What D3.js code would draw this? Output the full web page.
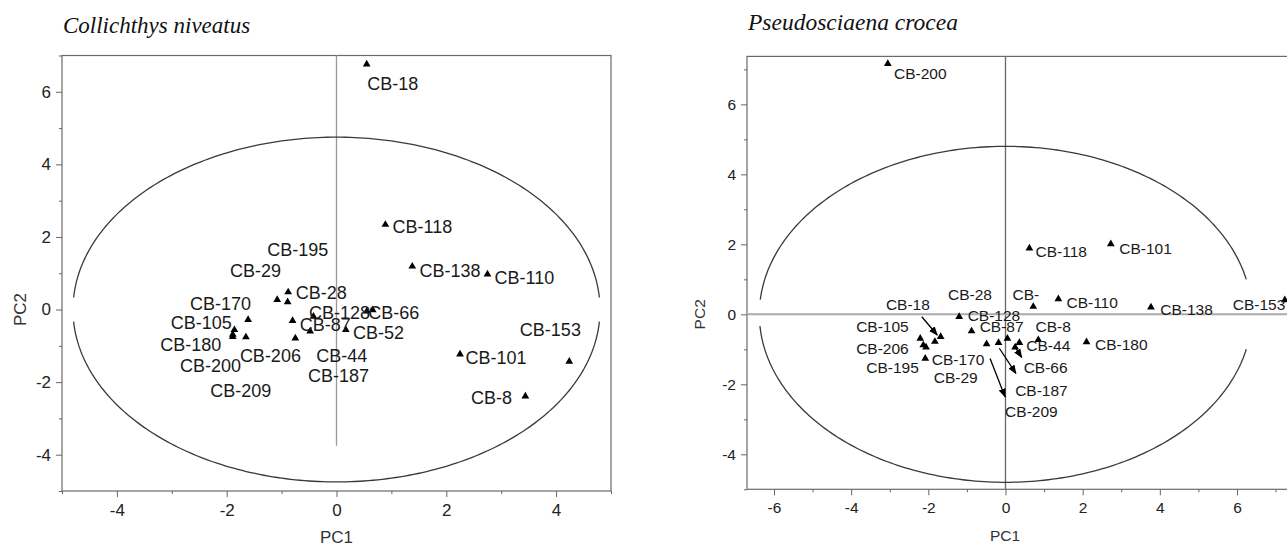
<!DOCTYPE html>
<html>
<head>
<meta charset="utf-8">
<script src="https://cdn.jsdelivr.net/npm/d3@7"></script>
<style>
  body { margin: 0; background: #fff; }
  svg { display: block; }
  .lbl { font-family: "Liberation Sans", Arial, sans-serif; fill: #1a1a1a; }
  .tick text { font-family: "Liberation Sans", Arial, sans-serif; fill: #222; }
  .title { font-family: "Liberation Serif", "Times New Roman", serif; font-style: italic; fill: #111; }
</style>
</head>
<body>
<div id="chart"></div>
<script>
// ---- Collichthys niveatus (left) ----
const leftNames = ["CB-18", "CB-118", "CB-138", "CB-110", "CB-153", "CB-101", "CB-8",
  "CB-195", "CB-28", "CB-29", "CB-170", "CB-87", "CB-105", "CB-180", "CB-200",
  "CB-206", "CB-209", "CB-44", "CB-128", "CB-52", "CB-187", "CB-66"];
const leftPC1 = [0.55, 0.89, 1.38, 2.75, 4.24, 2.25, 3.44,
  -1.08, -0.88, -0.89, -1.61, -0.8, -1.86, -1.89, -1.89,
  -1.65, -0.75, -0.48, -0.42, 0.17, 0.55, 0.66];
const leftPC2 = [6.76, 2.34, 1.19, 0.97, -1.43, -1.23, -2.39,
  0.27, 0.48, 0.21, -0.28, -0.31, -0.56, -0.69, -0.75,
  -0.76, -0.79, -0.6, -0.19, -0.56, -0.05, -0.01];
// where each name is written (data units, text start / baseline)
const leftLabelX = [0.56, 1.02, 1.51, 2.88, 3.34, 2.35, 2.45,
  -1.26, -0.74, -1.94, -2.67, -0.67, -3.02, -3.21, -2.85,
  -1.76, -2.3, -0.37, -0.5, 0.3, -0.52, 0.58];
const leftLabelY = [6.06, 2.1, 0.9, 0.71, -0.73, -1.5, -2.6,
  1.48, 0.28, 0.9, -0.01, -0.58, -0.54, -1.14, -1.72,
  -1.45, -2.41, -1.45, -0.25, -0.8, -2.01, -0.25];

// ---- Pseudosciaena crocea (right) ----
const rightNames = ["CB-200", "CB-118", "CB-101", "CB-110", "CB-138", "CB-153", "CB-180",
  "CB-", "CB-28", "CB-128", "CB-87", "CB-8", "CB-44", "CB-66", "CB-187", "CB-209",
  "CB-18", "CB-105", "CB-206", "CB-195", "CB-170", "CB-29"];
const rightPC1 = [-3.05, 0.62, 2.73, 1.37, 3.77, 7.24, 2.1,
  0.72, -1.2, -0.88, 0.05, 0.85, 0.36, 0.25, -0.18, -0.49,
  -1.68, -2.21, -2.13, -2.08, -1.83, -2.06];
const rightPC2 = [7.16, 1.89, 2.01, 0.44, 0.2, 0.41, -0.79,
  0.22, -0.07, -0.48, -0.69, -0.73, -0.81, -0.94, -0.81, -0.85,
  -0.64, -0.69, -0.88, -1.26, -0.78, -0.94];
const rightLabelX = [-2.89, 0.78, 2.95, 1.58, 4.01, 5.89, 2.32,
  0.18, -1.49, -0.98, -0.67, 0.78, 0.54, 0.47, 0.25, -0.01,
  -3.1, -3.87, -3.87, -3.61, -1.91, -1.86];
const rightLabelY = [6.71, 1.64, 1.73, 0.17, -0.03, 0.12, -1.03,
  0.42, 0.42, -0.18, -0.5, -0.5, -1.05, -1.67, -2.32, -2.92,
  0.12, -0.5, -1.13, -1.67, -1.45, -1.97];
// leader arrows [fromX, fromY, toX, toY]
const rightArrows = [
  [-2.17, -0.07, -1.77, -0.59],
  [-0.4, -1.26, -0.01, -2.36],
  [-0.16, -0.97, 0.27, -1.69],
  [0.25, -0.94, 0.42, -1.23]
];

const majorTicksLeftX = [-4, -2, 0, 2, 4];
const minorTicksLeftX = [-5, -3, -1, 1, 3, 5];
const majorTicksLeftY = [-4, -2, 0, 2, 4, 6];
const minorTicksLeftY = [-5, -3, -1, 1, 3, 5, 7];
const majorTicksRightX = [-6, -4, -2, 0, 2, 4, 6];
const minorTicksRightX = [-5, -3, -1, 1, 3, 5, 7];
const majorTicksRightY = [-4, -2, 0, 2, 4, 6];
const minorTicksRightY = [-5, -3, -1, 1, 3, 5, 7];

const W = 1287, H = 546;
const svg = d3.select("#chart").append("svg").attr("width", W).attr("height", H);

svg.append("defs").append("marker")
  .attr("id", "arrow")
  .attr("viewBox", "0 0 10 10")
  .attr("refX", 9).attr("refY", 5)
  .attr("markerWidth", 7).attr("markerHeight", 7)
  .attr("orient", "auto-start-reverse")
  .append("path").attr("d", "M0,1 L10,5 L0,9 z").attr("fill", "#000");

// plain hyphen for negatives, like the original
const fmt = (d) => String(d);

function drawPanel(cfg) {
  const x = d3.scaleLinear().domain(cfg.xDomain).range(cfg.xRange);
  const y = d3.scaleLinear().domain(cfg.yDomain).range(cfg.yRange);
  const g = svg.append("g");

  // title
  g.append("text").attr("class", "title")
    .attr("x", cfg.titleX).attr("y", cfg.titleY)
    .style("font-size", cfg.titleSize + "px")
    .text(cfg.title);

  // frame
  g.append("rect")
    .attr("x", cfg.xRange[0]).attr("y", cfg.yRange[1])
    .attr("width", cfg.xRange[1] - cfg.xRange[0])
    .attr("height", cfg.yRange[0] - cfg.yRange[1])
    .attr("fill", "none").attr("stroke", "#6a6a6a").attr("stroke-width", 1.2);

  // axes: majors with labels, minors short
  const xMaj = g.append("g").attr("transform", `translate(0,${cfg.yRange[0]})`)
    .call(d3.axisBottom(x).tickValues(cfg.xMajor).tickSize(6).tickPadding(7).tickFormat(fmt));
  const xMin = g.append("g").attr("transform", `translate(0,${cfg.yRange[0]})`)
    .call(d3.axisBottom(x).tickValues(cfg.xMinor).tickSize(3).tickFormat(""));
  const yMaj = g.append("g").attr("transform", `translate(${cfg.xRange[0]},0)`)
    .call(d3.axisLeft(y).tickValues(cfg.yMajor).tickSize(6).tickPadding(5).tickFormat(fmt));
  const yMin = g.append("g").attr("transform", `translate(${cfg.xRange[0]},0)`)
    .call(d3.axisLeft(y).tickValues(cfg.yMinor).tickSize(3).tickFormat(""));
  [xMaj, xMin, yMaj, yMin].forEach((a) => {
    a.select(".domain").remove();
    a.selectAll(".tick line").attr("stroke", "#666");
    a.selectAll(".tick text").style("font-size", cfg.tickSize + "px")
      .attr("font-family", null);
  });

  // axis titles
  g.append("text").attr("class", "lbl")
    .attr("x", (cfg.xRange[0] + cfg.xRange[1] - cfg.xTitleShift) / 2).attr("y", cfg.yRange[0] + 52)
    .attr("text-anchor", "middle").style("font-size", cfg.tickSize + "px").style("fill", "#333")
    .text("PC1");
  g.append("text").attr("class", "lbl")
    .attr("transform", `translate(${cfg.xRange[0] - cfg.yTitleOff},${y(0)}) rotate(-90)`)
    .attr("text-anchor", "middle").style("font-size", cfg.tickSize + "px").style("fill", "#333")
    .text("PC2");

  // reference lines through the origin
  if (cfg.vLine) {
    g.append("line")
      .attr("x1", x(0)).attr("x2", x(0))
      .attr("y1", y(cfg.vLine[0])).attr("y2", y(cfg.vLine[1]))
      .attr("stroke", cfg.vColor).attr("stroke-width", 1.3);
  }
  if (cfg.hLine) {
    g.append("line")
      .attr("x1", cfg.xRange[0]).attr("x2", cfg.xRange[1])
      .attr("y1", y(0)).attr("y2", y(0))
      .attr("stroke", "#aaa").attr("stroke-width", 2);
  }

  // correlation ellipse with gaps near the PC1 axis
  const angles = d3.range(0, 361, 1).map((a) => (a * Math.PI) / 180);
  const ell = angles.map((t) => ({ px: cfg.rx * Math.cos(t), py: cfg.ry * Math.sin(t) }));
  const ellipseLine = d3.line()
    .defined((p) => {
      const gap = p.px < 0 ? cfg.gapL : cfg.gapR;
      return !(p.py > gap[0] && p.py < gap[1]);
    })
    .x((p) => x(p.px)).y((p) => y(p.py));
  g.append("path").attr("d", ellipseLine(ell))
    .attr("fill", "none").attr("stroke", "#3a3a3a").attr("stroke-width", 1.3);

  // arrows
  g.selectAll(".arr").data(cfg.arrows || []).enter().append("line")
    .attr("x1", (d) => x(d[0])).attr("y1", (d) => y(d[1]))
    .attr("x2", (d) => x(d[2])).attr("y2", (d) => y(d[3]))
    .attr("stroke", "#000").attr("stroke-width", 1.3)
    .attr("marker-end", "url(#arrow)");

  // points
  const pts = cfg.names.map((n, i) => ({ n, px: cfg.pc1[i], py: cfg.pc2[i], lx: cfg.lx[i], ly: cfg.ly[i] }));
  g.selectAll(".pt").data(pts).enter().append("path")
    .attr("d", d3.symbol(d3.symbolTriangle, 26))
    .attr("transform", (d) => `translate(${x(d.px)},${y(d.py)})`)
    .attr("fill", "#000");

  g.selectAll(".name").data(pts).enter().append("text")
    .attr("class", "lbl")
    .attr("x", (d) => x(d.lx)).attr("y", (d) => y(d.ly))
    .style("font-size", cfg.labelSize + "px")
    .text((d) => d.n);
}

drawPanel({
  title: "Collichthys niveatus", titleX: 63, titleY: 33, titleSize: 23,
  xDomain: [-5, 5], xRange: [62, 611],
  yDomain: [-5, 7], yRange: [491, 55.5],
  xMajor: majorTicksLeftX, xMinor: minorTicksLeftX,
  yMajor: majorTicksLeftY, yMinor: minorTicksLeftY,
  tickSize: 17, labelSize: 18, xTitleShift: 0, yTitleOff: 36,
  vLine: [7, -3.75], vColor: "#999", hLine: false,
  rx: 4.8, ry: 4.75, gapL: [-0.25, 0.28], gapR: [-0.25, 0.28],
  names: leftNames, pc1: leftPC1, pc2: leftPC2, lx: leftLabelX, ly: leftLabelY
});

drawPanel({
  title: "Pseudosciaena crocea", titleX: 748, titleY: 30, titleSize: 23.5,
  xDomain: [-6.7, 7.4], xRange: [747, 1291],
  yDomain: [-5, 7.37], yRange: [489.3, 56.4],
  xMajor: majorTicksRightX, xMinor: minorTicksRightX,
  yMajor: majorTicksRightY, yMinor: minorTicksRightY,
  tickSize: 15.5, labelSize: 15.5, xTitleShift: 28, yTitleOff: 42,
  vLine: [7.37, -5], vColor: "#666", hLine: true,
  rx: 6.38, ry: 4.8, gapL: [-0.28, 0.38], gapR: [-0.93, 0.94],
  names: rightNames, pc1: rightPC1, pc2: rightPC2, lx: rightLabelX, ly: rightLabelY,
  arrows: rightArrows
});
</script>
</body>
</html>
